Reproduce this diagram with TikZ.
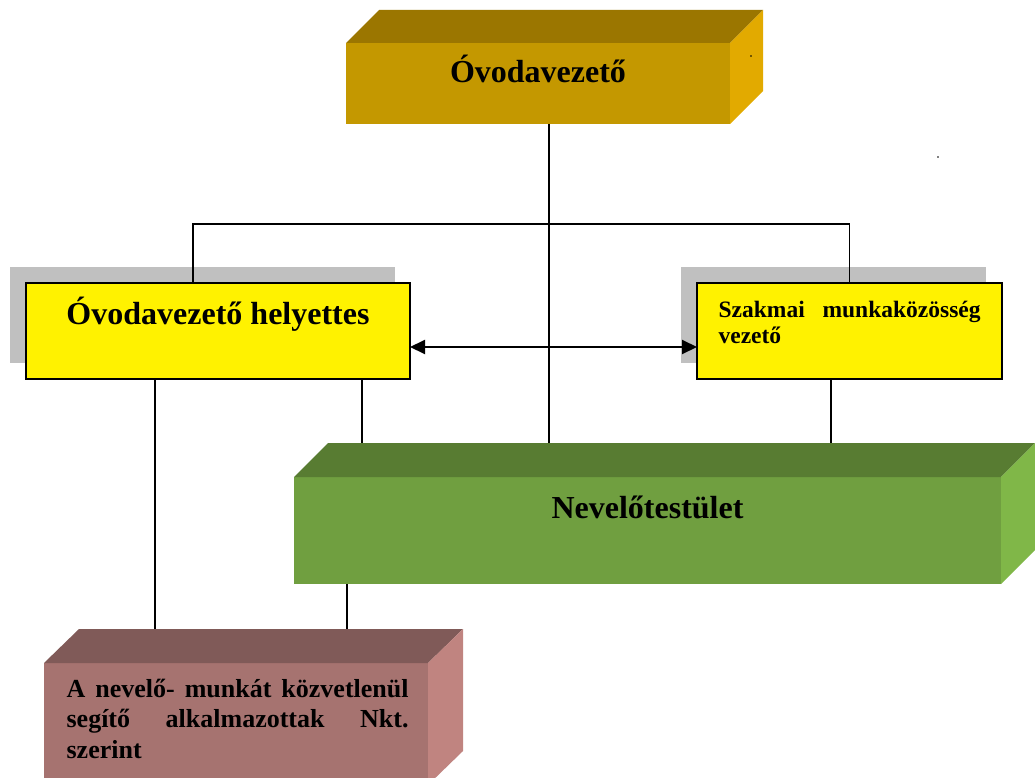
\documentclass[tikz,border=0pt]{standalone}
\usepackage{fontspec}
\setmainfont{Liberation Serif}
\usetikzlibrary{arrows.meta}

\definecolor{headtop}{RGB}{155,118,0}
\definecolor{headfront}{RGB}{196,152,0}
\definecolor{headside}{RGB}{226,170,0}
\definecolor{stafftop}{RGB}{88,124,50}
\definecolor{stafffront}{RGB}{112,159,64}
\definecolor{staffside}{RGB}{128,183,72}
\definecolor{assisttop}{RGB}{128,90,88}
\definecolor{assistfront}{RGB}{166,115,112}
\definecolor{assistside}{RGB}{192,132,128}
\definecolor{shade}{RGB}{192,192,192}

\begin{document}
\begin{tikzpicture}[%
        x = 1pt,
        y = -1pt,
        line width = 1.2pt,
        > = {Triangle[length = 15pt, width = 14pt]},
        face/.style = {%
            rectangle,
            inner sep = 0pt,
            outer sep = 0pt
        },
        yellowbox/.style = {%
            face,
            fill = yellow,
            draw = black,
            line width = 1.6pt
        },
        shadebox/.style = {%
            face,
            fill = shade
        },
        bigtext/.style = {%
            inner sep = 0pt,
            font = \bfseries\fontsize{32}{36}\selectfont
        }
    ]

        % Fix the page to the size of the picture.
        \useasboundingbox (0, 0) rectangle (1035, 778);
        \clip (0, 0) rectangle (1035, 778);

        % Front faces of the three solid boxes.
        \node[face, fill = headfront, minimum width = 384pt, minimum height = 81pt]
            at (538, 83.5) (head) {};
        \node[face, fill = stafffront, minimum width = 707pt, minimum height = 107pt]
            at (647.5, 530.5) (staff) {};
        \node[face, fill = assistfront, minimum width = 384pt, minimum height = 122pt]
            at (236, 724) (assist) {};

        % Top and side faces of the head box.
        \fill[headtop] (head.north west) -- ([shift = {(33, -33)}]head.north west)
            -- ([shift = {(33, -33)}]head.north east) -- (head.north east) -- cycle;
        \fill[headside] (head.north east) -- ([shift = {(33, -33)}]head.north east)
            -- ([shift = {(33, -33)}]head.south east) -- (head.south east) -- cycle;

        % Top and side faces of the staff box.
        \fill[stafftop] (staff.north west) -- ([shift = {(34, -34)}]staff.north west)
            -- ([shift = {(34, -34)}]staff.north east) -- (staff.north east) -- cycle;
        \fill[staffside] (staff.north east) -- ([shift = {(34, -34)}]staff.north east)
            -- ([shift = {(34, -34)}]staff.south east) -- (staff.south east) -- cycle;

        % Top and side faces of the assistants box.
        \fill[assisttop] (assist.north west) -- ([shift = {(35, -34)}]assist.north west)
            -- ([shift = {(35, -34)}]assist.north east) -- (assist.north east) -- cycle;
        \fill[assistside] (assist.north east) -- ([shift = {(35, -34)}]assist.north east)
            -- ([shift = {(35, -34)}]assist.south east) -- (assist.south east) -- cycle;

        % Grey shadows behind the two yellow boxes.
        \node[shadebox, minimum width = 385pt, minimum height = 96pt]
            at (202.5, 315) (deputyshade) {};
        \node[shadebox, minimum width = 305pt, minimum height = 96pt]
            at (833.5, 315) (leadershade) {};

        % The two yellow boxes.
        \node[yellowbox, minimum width = 384pt, minimum height = 96pt]
            at (218, 331) (deputy) {};
        \node[yellowbox, minimum width = 305pt, minimum height = 96pt]
            at (849.5, 331) (leader) {};

        % Back edges of the top faces, where the lines end.
        \coordinate (staffback) at ([yshift = 34pt]staff.north);
        \coordinate (assistback) at ([yshift = 34pt]assist.north);

        % Texts of the boxes.
        \node[bigtext, anchor = base] at (538, 83) (headtext) {Óvodavezető};
        \node[bigtext, anchor = base] at (218, 324) (deputytext) {Óvodavezető helyettes};
        \node[bigtext, anchor = base] at (647.5, 518) (stafftext) {Nevelőtestület};
        \node[inner sep = 0pt, anchor = base west, text width = 262pt, align = left,
              font = \bfseries\fontsize{23.5}{26}\selectfont]
            at (718, 317) (leadertext)
            {\makebox[262pt]{Szakmai\hfill munkaközösség}\\vezető};
        \node[inner sep = 0pt, anchor = base west, text width = 342pt, align = left,
              font = \bfseries\fontsize{26}{30.5}\selectfont]
            at (66, 697) (assisttext)
            {\makebox[342pt]{A\hfill nevelő-\hfill munkát\hfill közvetlenül}\\
             \makebox[342pt]{segítő\hfill alkalmazottak\hfill Nkt.}\\
             szerint};

        % Stray dots of the original.
        \fill (751, 56) circle (0.8);
        \fill (938, 157) circle (0.8);

        % Lines from the head box.
        \draw ([xshift = 11pt]head.south) -- ([xshift = 11pt]head.south |- staffback);
        \draw ([xshift = -25pt]deputy.north) -- ++(0, -59) -| (leader.north);

        % Lines from the deputy and the leader.
        \draw ([xshift = -63pt]deputy.south) -- ([xshift = -63pt]deputy.south |- assistback);
        \draw ([xshift = 144pt]deputy.south) -- ([xshift = 144pt]deputy.south |- staffback);
        \draw ([xshift = -18.5pt]leader.south) -- ([xshift = -18.5pt]leader.south |- staffback);
        \draw ([xshift = 53pt]staff.south west) -- ([xshift = 53pt]staff.south west |- assistback);

        % Arrow between the deputy and the leader.
        \draw[<->, line width = 2pt] ([yshift = -16pt]deputy.east) -- ([yshift = -16pt]leader.west);
    \end{tikzpicture}
\end{document}
